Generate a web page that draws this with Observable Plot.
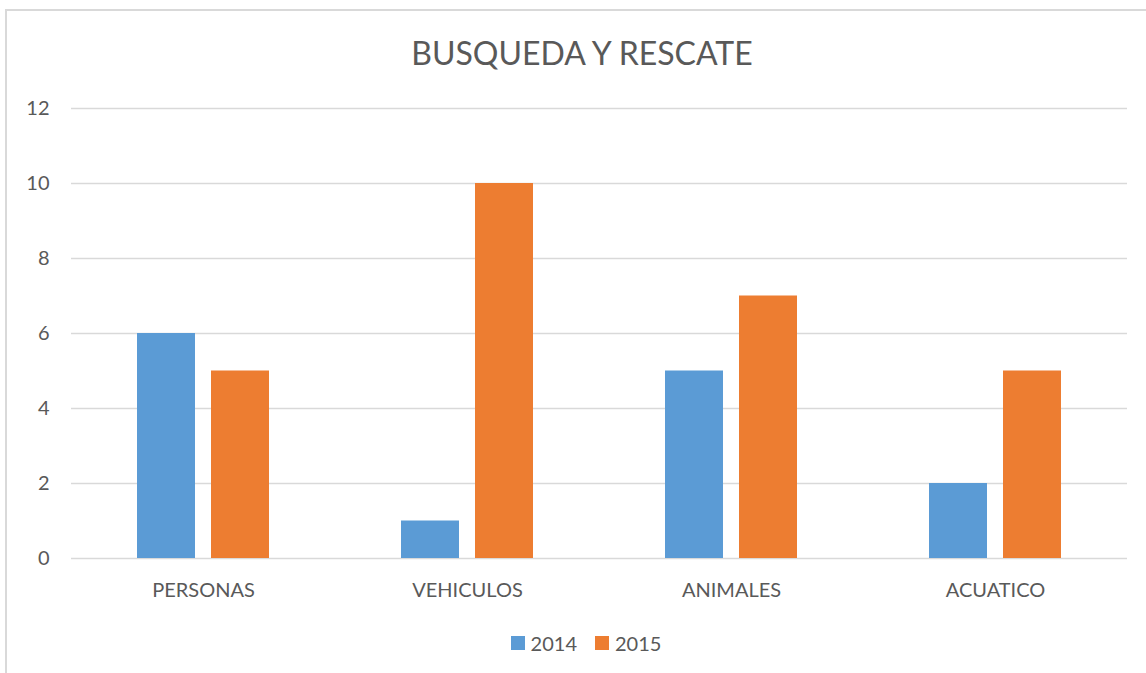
<!DOCTYPE html>
<html>
<head>
<meta charset="utf-8">
<script src="https://cdn.jsdelivr.net/npm/d3@7"></script>
<script src="https://cdn.jsdelivr.net/npm/@observablehq/plot@0.6"></script>
<style>
  html, body { margin: 0; padding: 0; background: #fff; overflow: hidden; }
  body { width: 1146px; height: 673px; position: relative; font-family: Lato, "Open Sans", sans-serif; color: #595959; }
  #frame { position: absolute; left: 5px; top: 9px; width: 1200px; height: 700px; border: 2px solid #d9d9d9; box-sizing: border-box; }
  #title { position: absolute; left: 0; width: 1164px; top: 33px; text-align: center; font-size: 32px; line-height: 40px; color: #595959; }
  #chart { position: absolute; left: 0; top: 0; }
  #legend { position: absolute; top: 630px; left: 0; width: 1172px; display: flex; justify-content: center; gap: 18px; font-size: 20px; line-height: 26px; }
  .item { display: flex; align-items: center; gap: 6px; }
  .sw { width: 14px; height: 14px; display: inline-block; }
</style>
</head>
<body>
<div id="frame"></div>
<div id="title"></div>
<div id="chart"></div>
<div id="legend"></div>
<script>
const titleText = "BUSQUEDA Y RESCATE";
const categories = ["PERSONAS", "VEHICULOS", "ANIMALES", "ACUATICO"];
const series = ["2014", "2015"];
const values2014 = [6, 1, 5, 2];
const values2015 = [5, 10, 7, 5];
const yTicks = [0, 2, 4, 6, 8, 10, 12];
const colors = ["#5B9BD5", "#ED7D31"];

const data = [];
categories.forEach((c, i) => {
  data.push({category: c, series: series[0], value: values2014[i]});
  data.push({category: c, series: series[1], value: values2015[i]});
});

document.getElementById("title").textContent = titleText;

const plot = Plot.plot({
  width: 1146,
  height: 673,
  marginTop: 108,
  marginBottom: 115,
  marginLeft: 69,
  marginRight: 18,
  style: {fontFamily: "Lato, 'Open Sans', sans-serif", fontSize: "20px", color: "#595959", background: "transparent"},
  fx: {domain: categories, padding: 0, label: null, axis: "bottom", tickSize: 0, tickPadding: 24},
  x: {domain: series, paddingInner: 0.2133, paddingOuter: 0.87, axis: null},
  y: {domain: [0, 12], ticks: yTicks, tickSize: 0, tickPadding: 22, label: null},
  color: {domain: series, range: colors},
  marks: [
    Plot.ruleY(yTicks, {stroke: "#d9d9d9", strokeWidth: 1.5}),
    Plot.barY(data, {fx: "category", x: "series", y: "value", fill: "series"})
  ]
});
document.getElementById("chart").appendChild(plot);

const legend = document.getElementById("legend");
series.forEach((s, i) => {
  const item = document.createElement("div");
  item.className = "item";
  const sw = document.createElement("span");
  sw.className = "sw";
  sw.style.background = colors[i];
  const t = document.createElement("span");
  t.textContent = s;
  item.appendChild(sw);
  item.appendChild(t);
  legend.appendChild(item);
});
</script>
</body>
</html>
